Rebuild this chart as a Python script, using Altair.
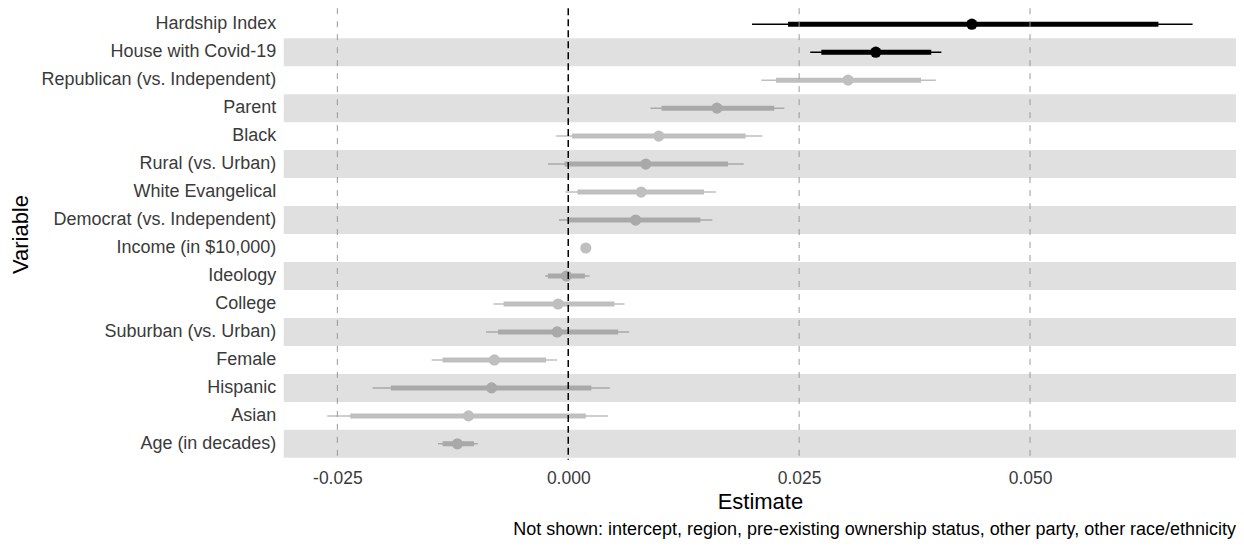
import altair as alt
import pandas as pd

variables = ["Hardship Index", "House with Covid-19", "Republican (vs. Independent)", "Parent",
             "Black", "Rural (vs. Urban)", "White Evangelical", "Democrat (vs. Independent)",
             "Income (in $10,000)", "Ideology", "College", "Suburban (vs. Urban)",
             "Female", "Hispanic", "Asian", "Age (in decades)"]
estimate = [0.0437, 0.0333, 0.0303, 0.0161, 0.0098, 0.0084, 0.0079, 0.0073,
            0.0019, -0.0002, -0.0011, -0.0012, -0.0080, -0.0083, -0.0108, -0.0120]
lo95 = [0.0199, 0.0262, 0.0209, 0.0089, -0.0013, -0.0022, -0.0003, -0.0010,
        0.0017, -0.0025, -0.0081, -0.0089, -0.0148, -0.0212, -0.0261, -0.0141]
hi95 = [0.0676, 0.0404, 0.0398, 0.0234, 0.0210, 0.0190, 0.0160, 0.0156,
        0.0021, 0.0023, 0.0061, 0.0066, -0.0012, 0.0045, 0.0043, -0.0098]
lo90 = [0.0238, 0.0274, 0.0225, 0.0101, 0.0004, -0.0004, 0.0010, 0.0001,
        0.0018, -0.0022, -0.0070, -0.0076, -0.0136, -0.0192, -0.0236, -0.0136]
hi90 = [0.0639, 0.0393, 0.0382, 0.0223, 0.0192, 0.0173, 0.0147, 0.0143,
        0.0020, 0.0018, 0.0050, 0.0054, -0.0024, 0.0025, 0.0019, -0.0102]
tone = ["black", "black", "light", "dark", "light", "dark", "light", "dark",
        "light", "dark", "light", "dark", "light", "dark", "light", "dark"]
stripes = variables[1::2]
grey_lines = [-0.025, 0.025, 0.050]
zero_line = [0.0]
tick_values = [-0.025, 0.0, 0.025, 0.050]
caption = "Not shown: intercept, region, pre-existing ownership status, other party, other race/ethnicity"

df = pd.DataFrame({"variable": variables, "estimate": estimate, "lo95": lo95, "hi95": hi95,
                   "lo90": lo90, "hi90": hi90, "tone": tone})
stripe_df = pd.DataFrame({"variable": stripes})
grey_df = pd.DataFrame({"v": grey_lines})
zero_df = pd.DataFrame({"v": zero_line})

W, H = 953, 452
xscale = alt.Scale(domain=[-0.0308, 0.0723], nice=False, zero=False)
yscale = alt.Scale(domain=variables, paddingInner=0, paddingOuter=2 / 28)
cscale = alt.Scale(domain=["black", "light", "dark"], range=["#000000", "#bfbfbf", "#a9a9a9"])

xaxis = alt.Axis(values=tick_values, grid=False, domain=False, ticks=False, tickSize=0,
                 labelExpr="datum.value < 0 ? '-' + format(-datum.value, '.3f') : format(datum.value, '.3f')",
                 labelFontSize=17.5, labelColor="#3a3a3a", labelPadding=24, labelBaseline="alphabetic",
                 title="Estimate", titleFontSize=22, titleFontWeight="normal", titleColor="#000000",
                 titleBaseline="alphabetic", titleY=49, titleX=W / 2)
yaxis = alt.Axis(grid=False, domain=False, ticks=False, tickSize=0, labelFontSize=18,
                 labelColor="#3a3a3a", labelPadding=8, labelLimit=400,
                 title="Variable", titleFontSize=22, titleFontWeight="normal", titleColor="#000000",
                 titleBaseline="alphabetic", titleAngle=-90, titleX=-256, titleY=H / 2, titleAlign="center")

base_y = alt.Y("variable:N", scale=yscale, axis=yaxis, sort=variables)

stripe_layer = alt.Chart(stripe_df).mark_rect(color="#e0e0e0").encode(
    y=alt.Y("variable:N", scale=yscale, axis=yaxis, sort=variables),
    x=alt.value(0), x2=alt.value(W))

thin = alt.Chart(df).mark_rule(strokeWidth=1.5).encode(
    y=base_y,
    x=alt.X("lo95:Q", scale=xscale, axis=xaxis), x2="hi95:Q",
    color=alt.Color("tone:N", scale=cscale, legend=None))
thick = alt.Chart(df).mark_rule(strokeWidth=5).encode(
    y=base_y,
    x=alt.X("lo90:Q", scale=xscale, axis=xaxis), x2="hi90:Q",
    color=alt.Color("tone:N", scale=cscale, legend=None))
points = alt.Chart(df).mark_circle(size=125, opacity=1).encode(
    y=base_y,
    x=alt.X("estimate:Q", scale=xscale, axis=xaxis),
    color=alt.Color("tone:N", scale=cscale, legend=None))

grey_rules = alt.Chart(grey_df).mark_rule(color="#999999", strokeWidth=1, strokeDash=[6, 7]).encode(
    x=alt.X("v:Q", scale=xscale, axis=xaxis))
zero_rule = alt.Chart(zero_df).mark_rule(color="#000000", strokeWidth=1.5, strokeDash=[7, 4]).encode(
    x=alt.X("v:Q", scale=xscale, axis=xaxis))

chart = alt.layer(stripe_layer, thin, thick, points, grey_rules, zero_rule).properties(
    width=W, height=H,
    autosize=alt.AutoSizeParams(type="none"),
    padding={"left": 276, "top": 0, "right": 0, "bottom": 84},
    title=alt.TitleParams(caption, orient="bottom", anchor="end", fontSize=18,
                          fontWeight="normal", color="#000000", offset=8),
).configure(font="Liberation Sans").configure_view(stroke=None)

chart.save("out.html", embed_options={"renderer": "svg", "actions": False})
